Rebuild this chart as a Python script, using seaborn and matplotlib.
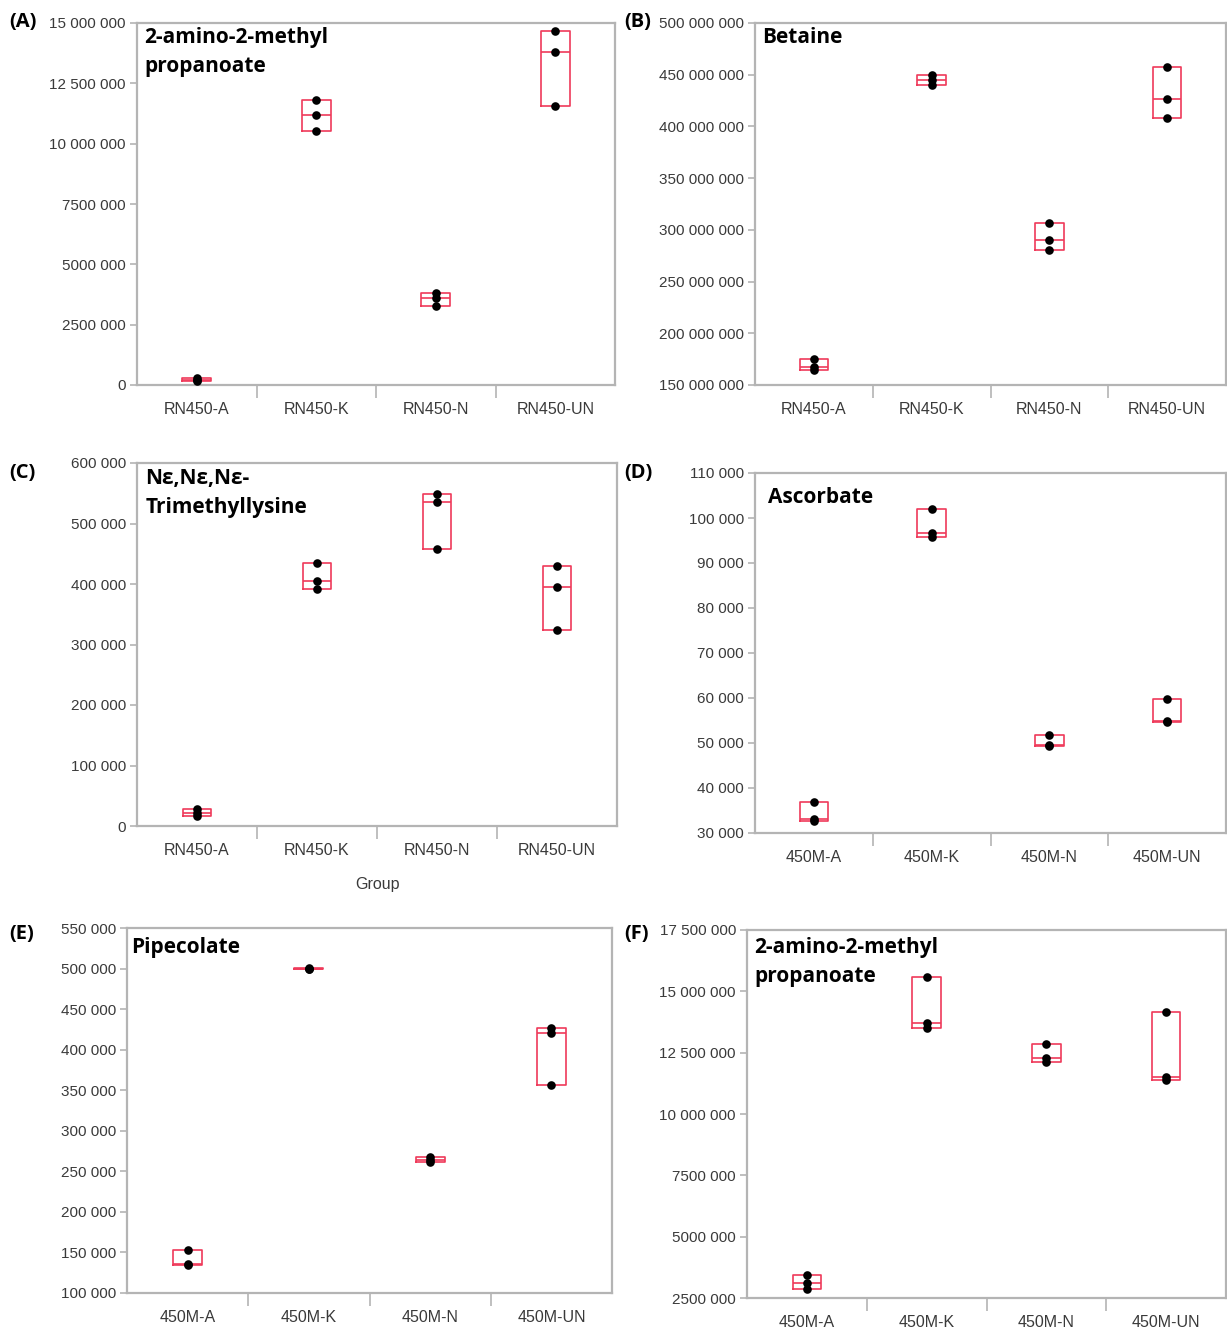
import numpy as np
import pandas as pd
import matplotlib
matplotlib.use("Agg")
import matplotlib.pyplot as plt
import seaborn as sns
from matplotlib.ticker import FuncFormatter, MultipleLocator, FixedLocator

# --- data (3 replicates per group) ---
groups_rn = ["RN450-A", "RN450-K", "RN450-N", "RN450-UN"]
groups_m = ["450M-A", "450M-K", "450M-N", "450M-UN"]

vals_a = [[300000, 220000, 180000], [11800000, 11200000, 10510000],
          [3820000, 3590000, 3260000], [14660000, 13790000, 11580000]]
vals_b = [[175.1e6, 167.7e6, 164.5e6], [449.4e6, 444.6e6, 440.4e6],
          [306.8e6, 290.4e6, 280.1e6], [457.1e6, 426.2e6, 408.2e6]]
vals_c = [[27500, 21000, 17000], [435400, 405000, 392300],
          [548600, 535900, 458000], [430400, 395600, 324300]]
vals_d = [[36800, 33000, 32600], [102000, 96700, 95700],
          [51700, 49600, 49300], [59700, 54900, 54600]]
vals_e = [[152500, 135500, 135000], [501000, 500000, 499000],
          [267500, 264000, 261000], [426300, 420500, 356400]]
vals_f = [[3420000, 3110000, 2870000], [15580000, 13690000, 13520000],
          [12840000, 12280000, 12120000], [14140000, 11520000, 11380000]]

RED = "#ef3a5a"
GRAY = "#b4b4b4"
TXT = "#3a3a3a"

sns.set_theme(style="white")
plt.rcParams['font.family'] = ['Liberation Sans Narrow', 'Liberation Sans', 'DejaVu Sans']


def fmt_num(v, pos):
    v = int(round(v))
    s = f"{v:,}".replace(",", " ")
    if len(str(abs(v))) == 7:  # JMP style: 7500 000
        s = s.replace(" ", "", 1)
    return s


def draw_panel(ax, groups, vals, ylim, step, name, tx, ty, xlabel=None):
    df = pd.DataFrame({"Group": np.repeat(groups, [len(v) for v in vals]),
                       "value": np.concatenate(vals)})
    sns.stripplot(data=df, x="Group", y="value", order=groups, jitter=False,
                  color="black", size=6.2, ax=ax, zorder=3)
    stats = [dict(med=np.median(v), q1=np.min(v), q3=np.max(v),
                  whislo=np.min(v), whishi=np.max(v), fliers=[]) for v in vals]
    ax.bxp(stats, positions=range(len(groups)), widths=0.24, showcaps=False,
           manage_ticks=False,
           boxprops=dict(color=RED, lw=1.2),
           medianprops=dict(color=RED, lw=1.2),
           whiskerprops=dict(lw=0))
    ax.set_xlim(-0.5, len(groups) - 0.5)
    ax.set_ylim(*ylim)
    ax.yaxis.set_major_locator(MultipleLocator(step))
    ax.yaxis.set_major_formatter(FuncFormatter(fmt_num))
    ax.xaxis.set_minor_locator(FixedLocator([0.5, 1.5, 2.5]))
    ax.tick_params(axis='x', which='major', length=0, pad=12, labelsize=11.5, labelcolor=TXT)
    ax.tick_params(axis='x', which='minor', length=9, width=1.2, color=GRAY, direction='out', bottom=True)
    ax.tick_params(axis='y', which='major', length=5, width=1.2, color=GRAY, direction='out',
                   left=True, pad=3, labelsize=11, labelcolor=TXT)
    for sp in ax.spines.values():
        sp.set_color(GRAY)
        sp.set_linewidth(1.6)
    ax.set_ylabel("")
    if xlabel:
        ax.set_xlabel(xlabel, fontsize=11.5, color=TXT, labelpad=14)
    else:
        ax.set_xlabel("")
    ax.text(tx, ty, name, transform=ax.transAxes, ha='left', va='top',
            fontsize=15, fontweight='bold', color='black', family='Open Sans',
            linespacing=1.5)


fig = plt.figure(figsize=(12.27, 13.32), dpi=100)
W, H = 1227, 1332


def add_ax(left, right, top, bottom):
    return fig.add_axes([left / W, 1 - bottom / H, (right - left) / W, (bottom - top) / H])


ax_a = add_ax(137, 615, 23, 385)
ax_b = add_ax(755, 1226, 23, 385)
ax_c = add_ax(137, 617, 463, 826)
ax_d = add_ax(755, 1226, 473, 833)
ax_e = add_ax(127, 612, 928, 1293)
ax_f = add_ax(747, 1226, 930, 1298)

draw_panel(ax_a, groups_rn, vals_a, (0, 15e6), 2.5e6, "2-amino-2-methyl\npropanoate", 0.015, 0.99)
draw_panel(ax_b, groups_rn, vals_b, (150e6, 500e6), 50e6, "Betaine", 0.015, 0.99)
draw_panel(ax_c, groups_rn, vals_c, (0, 600e3), 100e3, "N\u03b5,N\u03b5,N\u03b5-\nTrimethyllysine", 0.017, 0.985, xlabel="Group")
draw_panel(ax_d, groups_m, vals_d, (30e3, 110e3), 10e3, "Ascorbate", 0.027, 0.96)
draw_panel(ax_e, groups_m, vals_e, (100e3, 550e3), 50e3, "Pipecolate", 0.008, 0.975)
draw_panel(ax_f, groups_m, vals_f, (2.5e6, 17.5e6), 2.5e6, "2-amino-2-methyl\npropanoate", 0.015, 0.98)

for lab, x, y in [("(A)", 9, 22), ("(B)", 624, 22), ("(C)", 9, 473),
                  ("(D)", 624, 473), ("(E)", 9, 934), ("(F)", 624, 934)]:
    fig.text(x / W, 1 - y / H, lab, ha='left', va='center', fontsize=14.5,
             fontweight='bold', color='black', family='Open Sans')

fig.savefig("out.png", dpi=100)
